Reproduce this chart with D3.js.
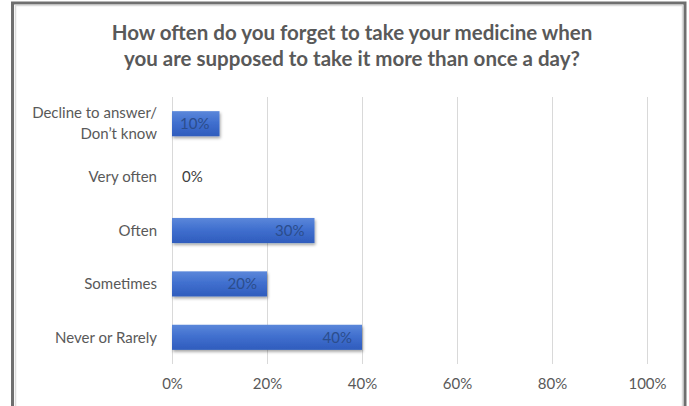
<!DOCTYPE html>
<html>
<head>
<meta charset="utf-8">
<script src="https://cdn.jsdelivr.net/npm/d3@7"></script>
<style>
  html, body { margin: 0; padding: 0; background: #fff; }
  svg { display: block; }
  text { font-family: Lato, "Open Sans", sans-serif; }
</style>
</head>
<body>
<div id="chart"></div>
<script>
// survey answers, top to bottom
var categories = ["Decline to answer/\nDon\u2019t know", "Very often", "Often", "Sometimes", "Never or Rarely"];
var values = [10, 0, 30, 20, 40];
var tickValues = [0, 20, 40, 60, 80, 100];
var titleLines = ["How often do you forget to take your medicine when",
                  "you are supposed to take it more than once a day?"];

var width = 689, height = 406;
var margin = { top: 97, right: 42, bottom: 42, left: 172 };
var labelSize = 15;

var svg = d3.select("#chart").append("svg")
    .attr("width", width)
    .attr("height", height);

var defs = svg.append("defs");
var grad = defs.append("linearGradient")
    .attr("id", "barFill")
    .attr("x1", 0).attr("y1", 0).attr("x2", 0).attr("y2", 1);
grad.append("stop").attr("offset", "0%").attr("stop-color", "#5b87da");
grad.append("stop").attr("offset", "45%").attr("stop-color", "#4170cf");
grad.append("stop").attr("offset", "100%").attr("stop-color", "#2f5cbd");

var shadow = defs.append("filter")
    .attr("id", "barShadow")
    .attr("x", "-10%").attr("y", "-30%")
    .attr("width", "130%").attr("height", "180%");
shadow.append("feDropShadow")
    .attr("dx", 1).attr("dy", 2)
    .attr("stdDeviation", 1.6)
    .attr("flood-color", "#000")
    .attr("flood-opacity", 0.35);

// frame round the chart
svg.append("rect")
    .attr("x", 12.5).attr("y", 3)
    .attr("width", 672.5).attr("height", 430)
    .attr("fill", "#fff")
    .attr("stroke", "#6f6f6f")
    .attr("stroke-width", 3);
svg.append("rect")
    .attr("x", 15.5).attr("y", 5.5)
    .attr("width", 667).attr("height", 430)
    .attr("fill", "none")
    .attr("stroke", "#dcdcdc")
    .attr("stroke-width", 1.5);

// title
svg.append("text")
    .attr("x", 352)
    .attr("y", 40)
    .attr("text-anchor", "middle")
    .attr("font-size", 20.5)
    .attr("font-weight", "bold")
    .attr("fill", "#595959")
    .selectAll("tspan")
    .data(titleLines)
    .enter()
    .append("tspan")
    .attr("x", 352)
    .attr("dy", function (d, i) { return i === 0 ? 0 : 26; })
    .text(function (d) { return d; });

var x = d3.scaleLinear()
    .domain([0, 100])
    .range([margin.left, width - margin.right]);

var y = d3.scaleBand()
    .domain(categories)
    .range([margin.top, 364])
    .paddingInner(0.53)
    .paddingOuter(0.265);

// vertical gridlines
svg.append("g")
    .selectAll("line")
    .data(tickValues)
    .enter()
    .append("line")
    .attr("x1", function (d) { return x(d) + 0.5; })
    .attr("x2", function (d) { return x(d) + 0.5; })
    .attr("y1", margin.top)
    .attr("y2", 364)
    .attr("stroke", "#d9d9d9")
    .attr("stroke-width", 1);

// percentage axis along the bottom
var xAxis = svg.append("g")
    .attr("transform", "translate(0,378)")
    .call(d3.axisBottom(x)
        .tickValues(tickValues)
        .tickSize(0)
        .tickPadding(0)
        .tickFormat(function (d) { return d + "%"; }));
xAxis.select(".domain").remove();
xAxis.selectAll("text")
    .attr("dy", "0.71em")
    .attr("font-family", "Lato, 'Open Sans', sans-serif")
    .attr("font-size", labelSize)
    .attr("fill", "#595959");

// category labels
var yAxis = svg.append("g")
    .attr("transform", "translate(" + (margin.left - 15) + ",0)")
    .call(d3.axisLeft(y).tickSize(0).tickPadding(0).tickFormat(""));
yAxis.select(".domain").remove();
yAxis.selectAll(".tick").each(function (d) {
    var lines = d.split("\n");
    var t = d3.select(this).append("text")
        .attr("text-anchor", "end")
        .attr("font-size", labelSize)
        .attr("fill", "#595959");
    lines.forEach(function (line, i) {
        t.append("tspan")
            .attr("x", 0)
            .attr("y", (i - (lines.length - 1) / 2) * 21)
            .attr("dy", "0.35em")
            .text(line);
    });
});

var rows = categories.map(function (c, i) { return { cat: c, value: values[i] }; });

// bars
svg.append("g")
    .selectAll("rect")
    .data(rows.filter(function (d) { return d.value > 0; }))
    .enter()
    .append("rect")
    .attr("x", x(0))
    .attr("y", function (d) { return y(d.cat); })
    .attr("width", function (d) { return x(d.value) - x(0); })
    .attr("height", y.bandwidth())
    .attr("fill", "url(#barFill)")
    .attr("filter", "url(#barShadow)");

// value labels at the bar ends
svg.append("g")
    .selectAll("text")
    .data(rows)
    .enter()
    .append("text")
    .attr("x", function (d) { return d.value > 0 ? x(d.value) - 10 : x(0) + 10; })
    .attr("y", function (d) { return y(d.cat) + y.bandwidth() / 2; })
    .attr("dy", "0.35em")
    .attr("text-anchor", function (d) { return d.value > 0 ? "end" : "start"; })
    .attr("font-size", labelSize)
    .attr("fill", function (d) { return d.value > 0 ? "#2b4d8c" : "#404040"; })
    .text(function (d) { return d.value + "%"; });
</script>
</body>
</html>
